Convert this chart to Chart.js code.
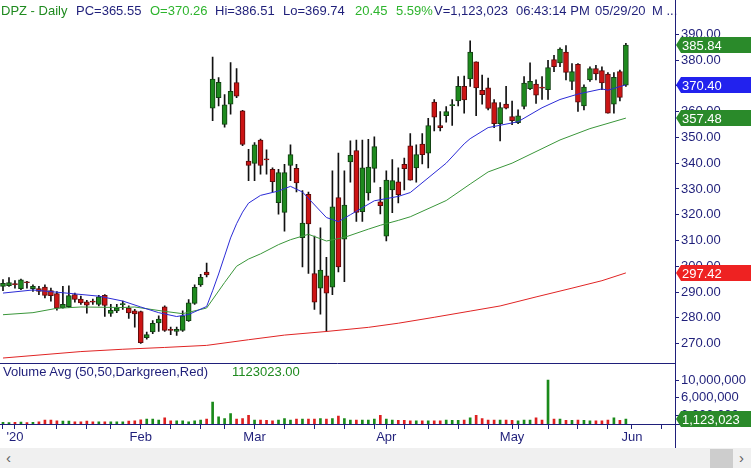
<!DOCTYPE html>
<html>
<head>
<meta charset="utf-8">
<script src="https://cdn.jsdelivr.net/npm/chart.js@4.4.0/dist/chart.umd.min.js"></script>
<style>
html, body { margin: 0; padding: 0; background: #fff; }
#wrap { position: relative; width: 751px; height: 468px; overflow: hidden; font-family: "Liberation Sans", Arial, sans-serif; }
#c { position: absolute; left: 0; top: 0; }
.t { position: absolute; font-size: 13px; line-height: 16px; white-space: pre; }
.nv { color: #1f1f7a; }
.gn { color: #1f8a1f; }
.lg { color: #2db42d; }
#scroll { position: absolute; left: 0; top: 448px; width: 751px; height: 20px; background: #f0f0f0; }
#scroll .ar { position: absolute; top: 1px; font-size: 15px; color: #606060; }
#thumb { position: absolute; left: 710px; top: 1px; width: 23px; height: 19px; background: #cdcdcd; }
</style>
</head>
<body>
<div id="wrap">
  <canvas id="c" width="751" height="448"></canvas>
  <div class="t gn" style="left:1px;top:3px">DPZ - Daily</div>
  <div class="t nv" style="left:76px;top:3px">PC=365.55</div>
  <div class="t lg" style="left:150px;top:3px">O=370.26</div>
  <div class="t nv" style="left:215px;top:3px">Hi=386.51</div>
  <div class="t nv" style="left:283px;top:3px">Lo=369.74</div>
  <div class="t lg" style="left:355px;top:3px">20.45</div>
  <div class="t lg" style="left:396px;top:3px">5.59%</div>
  <div class="t nv" style="left:434px;top:3px">V=1,123,023</div>
  <div class="t nv" style="left:516px;top:3px">06:43:14 PM</div>
  <div class="t nv" style="left:595px;top:3px">05/29/20</div>
  <div class="t nv" style="left:652px;top:3px">M ...</div>
  <div class="t nv" style="left:3px;top:364px">Volume Avg (50,50,Darkgreen,Red)</div>
  <div class="t gn" style="left:232px;top:364px">1123023.00</div>
  <div id="scroll">
    <span class="ar" style="left:6px">&lsaquo;</span>
    <div id="thumb"></div>
    <span class="ar" style="left:739px">&rsaquo;</span>
  </div>
</div>
<script>
// daily candles, 12/30/2019 .. 05/29/2020 (index = trading day)
const opens = [292.2,292.5,293.2,291.3,294.0,291.3,291.3,291.9,290.6,289.4,
  283.9,284.3,289.0,287.3,286.2,286.4,285.2,288.7,281.7,282.7,
  285.1,283.8,282.7,282.4,272.3,274.5,278.0,284.3,275.4,274.7,
  275.1,278.9,285.6,292.8,297.7,361.3,365.4,355.0,362.9,371.3,
  360.3,340.8,339.9,349.0,341.6,337.6,324.7,320.9,339.1,338.0,
  311.1,327.9,297.2,291.5,296.3,291.9,326.6,310.5,340.5,344.9,
  321.2,328.5,338.0,325.0,311.7,329.6,332.8,339.5,346.7,338.2,
  347.4,343.9,363.7,354.6,358.4,362.3,364.1,369.8,372.7,379.3,
  368.3,369.2,363.5,355.3,362.9,358.1,355.7,362.0,368.9,370.7,
  369.3,368.5,380.2,378.9,383.1,371.7,378.3,362.2,372.3,376.7,
  375.9,374.6,362.9,375.5,370.26];
const highs = [294.8,295.6,294.4,295.0,294.2,292.8,292.2,292.8,291.5,290.2,
  292.2,292.4,289.6,288.4,286.8,287.3,288.7,289.0,285.2,285.2,
  286.5,284.6,283.3,282.6,274.5,278.9,280.8,284.6,276.4,276.4,
  282.7,287.1,292.8,296.9,301.2,381.2,373.2,366.6,379.0,376.7,
  360.5,345.4,348.0,349.3,345.2,338.2,337.6,339.5,347.1,339.5,
  329.4,328.8,311.7,314.9,303.5,337.0,343.9,337.0,348.7,349.0,
  349.0,349.2,350.2,330.6,337.0,341.4,338.2,342.0,351.5,347.1,
  351.5,357.4,364.7,360.0,362.0,364.7,373.6,373.8,387.5,379.3,
  374.2,373.0,364.7,363.5,369.8,364.1,360.7,373.6,378.9,372.3,
  373.6,379.9,381.8,384.7,385.6,378.6,378.6,370.4,377.4,378.0,
  377.4,375.1,375.1,376.1,386.51];
const lows = [290.5,292.2,291.5,290.9,291.5,290.2,289.0,287.7,286.5,283.0,
  283.7,283.9,286.1,285.2,281.8,285.2,284.6,280.5,280.5,282.0,
  283.3,279.8,276.4,270.1,271.7,273.8,274.7,274.7,273.5,273.2,
  274.7,278.6,285.2,292.2,295.9,356.5,362.2,354.0,359.0,365.4,
  346.8,333.2,333.2,335.7,335.7,328.8,320.2,313.6,333.2,328.8,
  299.7,297.2,283.3,281.4,274.7,289.0,297.8,294.0,332.6,317.4,
  317.4,325.6,332.6,320.3,309.8,320.8,324.6,329.6,333.4,332.6,
  339.7,338.2,352.5,352.5,355.9,354.6,362.2,359.4,369.8,358.4,
  362.9,360.7,353.8,348.6,361.0,354.9,355.3,361.0,368.5,363.2,
  364.7,364.7,375.5,377.4,372.3,368.5,360.1,360.7,371.7,372.3,
  368.5,359.4,359.4,364.1,369.74];
const closes = [293.4,293.7,292.9,294.7,293.6,292.2,290.2,288.7,288.6,283.7,
  285.2,288.6,287.1,285.8,284.9,286.1,288.1,284.8,282.9,283.9,
  285.3,281.9,281.5,270.4,273.5,277.9,279.5,275.1,275.1,275.5,
  280.8,285.8,291.8,295.7,296.6,372.6,371.4,362.6,367.9,366.0,
  347.3,339.1,347.1,339.1,341.3,332.8,336.3,336.3,343.3,332.3,
  316.8,316.4,286.1,298.5,289.6,323.1,299.7,323.7,343.0,320.9,
  338.2,338.5,346.4,323.5,333.4,333.2,327.8,337.9,333.4,343.3,
  343.3,354.6,357.8,353.8,360.0,362.6,369.8,364.5,383.1,369.2,
  366.6,361.2,355.3,361.6,361.3,356.5,358.4,371.1,371.7,366.4,
  369.1,377.1,377.4,384.3,375.2,375.5,363.7,369.5,376.7,374.6,
  371.1,359.4,373.3,365.55,385.84];
const volumes = [380000,350000,400000,420000,350000,400000,520000,890000,890000,740000,
  670000,670000,520000,520000,670000,520000,520000,520000,520000,520000,
  520000,670000,740000,960000,1100000,1100000,890000,1400000,740000,740000,
  740000,520000,740000,890000,1100000,4960000,1630000,1260000,2370000,1100000,
  1260000,2000000,890000,890000,810000,740000,890000,1260000,890000,1100000,
  1100000,1100000,1100000,1260000,1100000,1260000,1780000,1260000,890000,890000,
  890000,890000,1100000,2000000,1100000,890000,810000,810000,740000,740000,
  740000,740000,740000,740000,890000,810000,810000,890000,1400000,2000000,
  1260000,890000,890000,890000,890000,810000,740000,890000,890000,1400000,
  890000,10000000,1100000,1100000,810000,810000,890000,810000,740000,740000,
  740000,890000,1400000,810000,1123023];

// moving averages: [day index, value]
const maBlue = [[0,289.6],[5,290.8],[11,289.5],[16,288.4],[20,286.5],[23,284.2],[26,282.0],[29,280.5],
  [31,281.3],[34,284.4],[35,290.5],[36,297.0],[37,304.0],[38,311.0],[39,316.5],[40,321.0],[41,324.5],
  [43,327.5],[46,329.2],[48,331.0],[50,328.8],[54,318.9],[56,317.3],[58,320.0],[62,325.4],[66,327.1],
  [68,328.6],[74,340.0],[77,347.5],[78,349.5],[81,353.8],[85,355.6],[86,356.1],[90,361.5],[93,364.7],
  [96,366.8],[100,368.8],[101,368.3],[104,370.40]];
const maGreen = [[0,281.2],[5,282.0],[9,283.7],[13,284.2],[20,284.0],[22,284.2],[27,282.5],[30,281.6],
  [34,283.8],[37,293.7],[39,300.0],[41,302.8],[43,304.8],[46,308.4],[48,310.3],[51,312.4],[54,309.8],
  [57,311.2],[61,314.4],[63,315.9],[66,317.8],[68,319.2],[74,325.5],[78,331.9],[81,336.6],[85,340.0],
  [93,349.0],[98,353.4],[104,357.48]];
const maRed = [[0,264.4],[13,266.9],[20,267.8],[27,268.5],[34,269.3],[41,271.5],[47,273.3],[54,274.7],
  [61,276.3],[66,277.9],[72,280.2],[78,282.6],[83,284.6],[89,288.1],[95,291.5],[100,294.4],[104,297.42]];

// x axis tick labels and weekly tick marks
const monthTicks = [[2,"'20"],[23,'Feb'],[42,'Mar'],[64,'Apr'],[85,'May'],[105,'Jun']];
const weekTicks = [0,4,9,14,18,23,28,33,37,42,47,52,57,62,67,71,76,81,86,91,96,101,105,110];
const priceTicks = [270,280,290,300,310,320,330,340,350,360,370,380,390];
const volumeTicks = [2000000,6000000,10000000];

const navy = '#1f1f7a';
const upFill = '#1e8a1e', upEdge = '#123f12';
const dnFill = '#cc1414', dnEdge = '#5a0b0b';

const idx = closes.map((c, i) => i);
const isUp = i => closes[i] >= opens[i];
const monthLabel = {};
monthTicks.forEach(m => { monthLabel[m[0]] = m[1]; });
const allXTicks = Array.from(new Set(weekTicks.concat(monthTicks.map(m => m[0])))).sort((a, b) => a - b);

const tagPlugin = {
  id: 'tags',
  afterDraw(chart) {
    const ctx = chart.ctx;
    const area = chart.chartArea;
    const y = chart.scales.y, yv = chart.scales.yv;
    ctx.save();
    ctx.strokeStyle = navy;
    ctx.lineWidth = 1;
    ctx.beginPath();
    ctx.moveTo(0, Math.round(yv.top) + 0.5); ctx.lineTo(area.right, Math.round(yv.top) + 0.5);
    ctx.moveTo(0, Math.round(area.bottom) + 0.5); ctx.lineTo(chart.width, Math.round(area.bottom) + 0.5);
    ctx.moveTo(Math.round(area.right) + 0.5, 0); ctx.lineTo(Math.round(area.right) + 0.5, chart.height);
    ctx.stroke();

    const last = closes.length - 1;
    const tags = [
      [closes[last], y, '#2a8a2a', closes[last].toFixed(2)],
      [maBlue[maBlue.length - 1][1], y, '#2222ee', maBlue[maBlue.length - 1][1].toFixed(2)],
      [maGreen[maGreen.length - 1][1], y, '#2a8a2a', maGreen[maGreen.length - 1][1].toFixed(2)],
      [maRed[maRed.length - 1][1], y, '#ee2222', maRed[maRed.length - 1][1].toFixed(2)],
      [volumes[last], yv, '#2a8a2a', volumes[last].toLocaleString('en-US')]
    ];
    ctx.font = '13px "Liberation Sans", Arial, sans-serif';
    ctx.textBaseline = 'middle';
    tags.forEach(t => {
      const py = Math.round(t[1].getPixelForValue(t[0]));
      const x0 = Math.round(area.right) + 1;
      ctx.fillStyle = t[2];
      ctx.beginPath();
      ctx.moveTo(x0, py);
      ctx.lineTo(x0 + 5, py - 8);
      ctx.lineTo(chart.width, py - 8);
      ctx.lineTo(chart.width, py + 8);
      ctx.lineTo(x0 + 5, py + 8);
      ctx.closePath();
      ctx.fill();
      ctx.fillStyle = '#fff';
      ctx.fillText(t[3], x0 + 6, py + 1);
    });
    ctx.restore();
  }
};

Chart.defaults.font.family = '"Liberation Sans", Arial, sans-serif';
Chart.defaults.font.size = 13;
Chart.defaults.color = navy;

new Chart(document.getElementById('c'), {
  type: 'bar',
  data: {
    datasets: [
      { type: 'line', label: 'MA blue', data: maBlue.map(p => ({x: p[0], y: p[1]})), yAxisID: 'y',
        borderColor: '#2b2bd6', borderWidth: 1, pointRadius: 0, tension: 0, order: 0 },
      { type: 'line', label: 'MA green', data: maGreen.map(p => ({x: p[0], y: p[1]})), yAxisID: 'y',
        borderColor: '#3a963a', borderWidth: 1, pointRadius: 0, tension: 0, order: 0 },
      { type: 'line', label: 'MA red', data: maRed.map(p => ({x: p[0], y: p[1]})), yAxisID: 'y',
        borderColor: '#e02424', borderWidth: 1, pointRadius: 0, tension: 0, order: 0 },
      { label: 'Body', data: idx.map(i => ({x: i, y: [opens[i], closes[i]]})), yAxisID: 'y',
        backgroundColor: idx.map(i => isUp(i) ? upFill : dnFill),
        borderColor: idx.map(i => isUp(i) ? upEdge : dnEdge),
        borderWidth: 1, borderSkipped: false, barThickness: 5, minBarLength: 1, grouped: false, order: 1 },
      { label: 'Wick', data: idx.map(i => ({x: i, y: [lows[i], highs[i]]})), yAxisID: 'y',
        backgroundColor: '#111', barThickness: 1, grouped: false, order: 2 },
      { label: 'Volume', data: idx.map(i => ({x: i, y: volumes[i]})), yAxisID: 'yv',
        backgroundColor: idx.map(i => isUp(i) ? '#1a8a1a' : '#dd2020'),
        barThickness: 2, grouped: false, order: 3 }
    ]
  },
  options: {
    responsive: false,
    animation: false,
    layout: { padding: 0, autoPadding: false },
    plugins: { legend: { display: false }, tooltip: { enabled: false } },
    scales: {
      x: {
        type: 'linear', min: -0.5, max: 112.2, offset: false,
        grid: { offset: false, drawOnChartArea: false, drawTicks: true, tickLength: 5, color: navy },
        border: { display: false },
        afterBuildTicks: s => { s.ticks = allXTicks.map(v => ({value: v})); },
        afterFit: s => { s.height = 24; },
        ticks: { autoSkip: false, maxRotation: 0, padding: 1, color: navy,
          callback: v => monthLabel[v] || '' }
      },
      y: {
        position: 'right', stack: 'panels', stackWeight: 362,
        min: 262.3, max: 399.5,
        grid: { drawOnChartArea: false, drawTicks: true, tickLength: 4, color: navy },
        border: { display: false },
        afterBuildTicks: s => { s.ticks = priceTicks.map(v => ({value: v})); },
        afterFit: s => { s.width = 76; },
        ticks: { autoSkip: false, padding: 2, color: navy, callback: v => v.toFixed(2) }
      },
      yv: {
        position: 'right', stack: 'panels', stackWeight: 62,
        min: 0, max: 13780000,
        grid: { drawOnChartArea: false, drawTicks: true, tickLength: 4, color: navy },
        border: { display: false },
        afterBuildTicks: s => { s.ticks = volumeTicks.map(v => ({value: v})); },
        afterFit: s => { s.width = 76; },
        ticks: { autoSkip: false, padding: 2, color: navy, callback: v => v.toLocaleString('en-US') }
      }
    }
  },
  plugins: [tagPlugin]
});
</script>
</body>
</html>
